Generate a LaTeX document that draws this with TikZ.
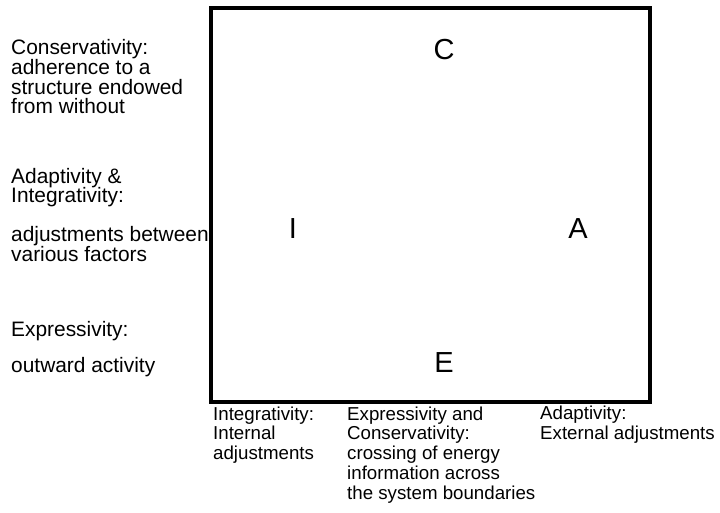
\documentclass[tikz,border=0pt]{standalone}
\usepackage{fontspec}
\setmainfont{Liberation Sans}
\begin{document}
\begin{tikzpicture}[x=1pt,y=-1pt,
  sidetext/.style={anchor=base west, align=left, inner sep=0pt, font=\fontsize{20.9}{19.7}\selectfont},
  foottext/.style={anchor=base west, align=left, inner sep=0pt, font=\fontsize{18.7}{19.75}\selectfont},
  letter/.style={inner sep=0pt, font=\fontsize{29}{29}\selectfont}]
\useasboundingbox (0,0) rectangle (720,513);
% texts on the left (placed at the baseline of their last line)
\node[sidetext] (conserv) at (11,114) {Conservativity:\\adherence to a\\structure endowed\\from without};
\node[sidetext] (adaptint) at (11,203) {Adaptivity \&\\Integrativity:};
\node[sidetext] (between) at (11,261) {adjustments between\\various factors};
\node[sidetext] (express) at (11,336) {Expressivity:};
\node[sidetext] (outward) at (11,372) {outward activity};
% the system
\node[draw, line width=4pt, minimum width=439.5pt, minimum height=394pt, inner sep=0pt] (system) at (430.25,205) {};
\node[letter] (C) at (444,50) {C};
\node[letter] (I) at (293,229) {I};
\node[letter] (A) at (578,229) {A};
\node[letter] (E) at (444,363) {E};
% texts below
\node[foottext] (integ) at (213,459.5) {Integrativity:\\Internal\\adjustments};
\node[foottext] (cross) at (347,499) {Expressivity and\\Conservativity:\\crossing of energy\\information across\\the system boundaries};
\node[foottext] (adapt) at (540,439.5) {Adaptivity:\\External adjustments};
\end{tikzpicture}
\end{document}
